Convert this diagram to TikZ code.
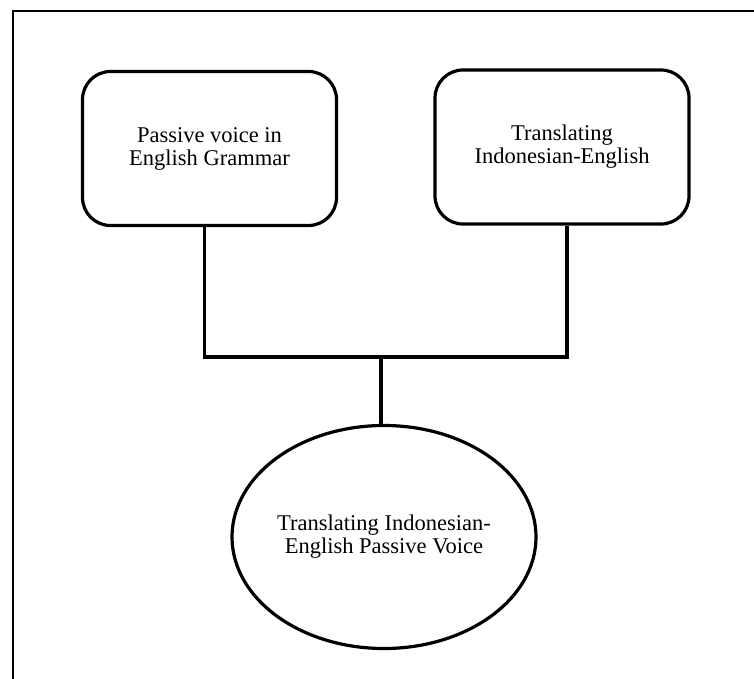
\documentclass[tikz,border=0pt]{standalone}
\usepackage{fontspec}
\setmainfont{Liberation Serif}
\usepackage{tikz}
\usetikzlibrary{shapes.geometric}

\begin{document}
\begin{tikzpicture}[x=1pt,y=-1pt,
  topic/.style={draw,line width=3.2pt,rounded corners=28pt,minimum width=254pt,minimum height=154pt,inner sep=0pt,align=center,font=\fontsize{22.5}{23}\selectfont},
  goal/.style={draw,ellipse,line width=3.2pt,minimum width=304pt,minimum height=223pt,inner sep=0pt,align=center,font=\fontsize{22.5}{23}\selectfont},
  link/.style={line width=3.2pt}]
\useasboundingbox (0,0) rectangle (754,679);
\draw[line width=1.5pt] (13,679) -- (13,11) -- (754,11);
\node[topic] (passive) at (209.5,148.5) {Passive voice in\\English Grammar};
\node[topic] (translating) at (562,147) {Translating\\Indonesian-English};
\node[goal] (result) at (384,537) {Translating Indonesian-\\English Passive Voice};
\coordinate (join) at (381,357);
\draw[link] ([xshift=-5pt]passive.south) |- (join) -| ([xshift=5pt]translating.south);
\draw[link] (join) -- (join |- result.north);
\end{tikzpicture}
\end{document}
